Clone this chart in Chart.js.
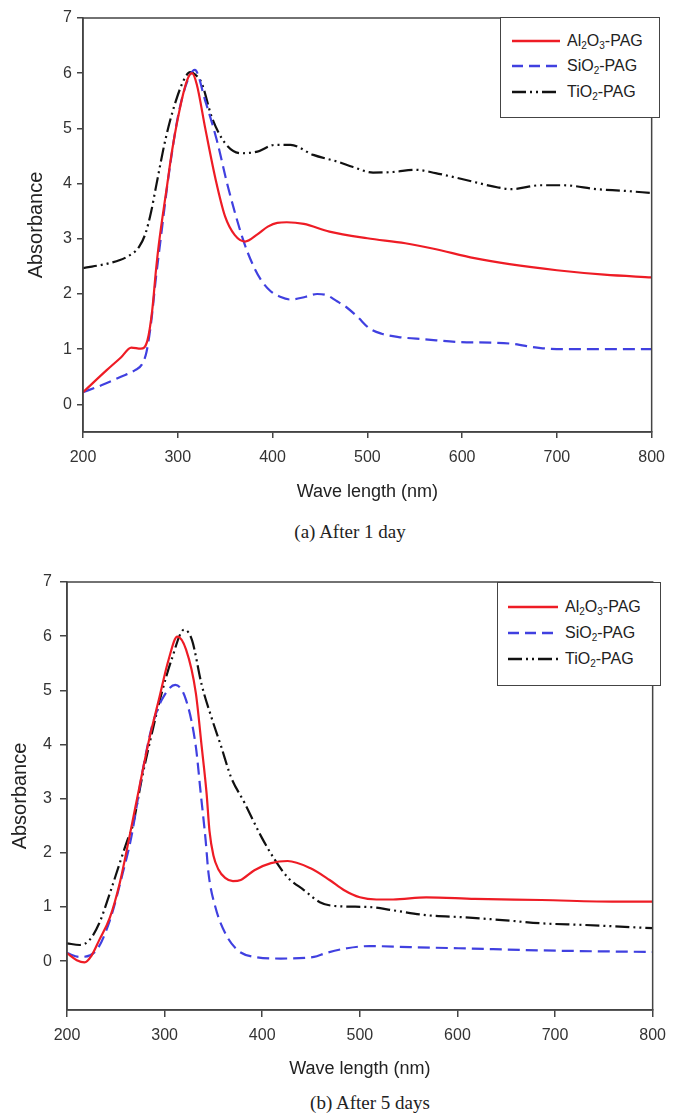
<!DOCTYPE html>
<html>
<head>
<meta charset="utf-8">
<script src="https://cdn.jsdelivr.net/npm/chart.js@4.4.1/dist/chart.umd.min.js"></script>
<style>
  html, body { margin: 0; padding: 0; background: #fff; }
  body { width: 675px; height: 1116px; position: relative; overflow: hidden; font-family: "Liberation Sans", Arial, sans-serif; }
  canvas { position: absolute; left: 0; }
  .legend { position: absolute; border: 1.5px solid #444; background: #fff; box-sizing: border-box; }
  .item { position: absolute; left: 0; height: 20px; display: flex; align-items: center; font-size: 16px; color: #222; white-space: nowrap; }
  .item svg { display: block; margin-right: 7px; }
  sub { font-size: 10px; vertical-align: -3px; line-height: 0; }
  .caption { position: absolute; font-family: "Liberation Serif", "Times New Roman", serif; font-size: 19px; color: #222; transform: translate(-50%, -50%); white-space: nowrap; }
</style>
</head>
<body>
<canvas id="c1" width="675" height="510" style="top:0px;width:675px;height:510px"></canvas>
<canvas id="c2" width="675" height="520" style="top:560px;width:675px;height:520px"></canvas>

<div class="legend" style="left:500px;top:17px;width:160px;height:101px">
  <div class="item" style="left:11px;top:13px"><svg width="48" height="4"><line x1="0" y1="2" x2="48" y2="2" stroke="#ee1c25" stroke-width="2.5"/></svg><span>Al<sub>2</sub>O<sub>3</sub>-PAG</span></div>
  <div class="item" style="left:11px;top:38px"><svg width="48" height="4"><line x1="0" y1="2" x2="48" y2="2" stroke="#4040e0" stroke-width="2.5" stroke-dasharray="11 6"/></svg><span>SiO<sub>2</sub>-PAG</span></div>
  <div class="item" style="left:11px;top:64px"><svg width="48" height="4"><line x1="0" y1="2" x2="48" y2="2" stroke="#111" stroke-width="2.5" stroke-dasharray="14 4 2 4 2 4"/></svg><span>TiO<sub>2</sub>-PAG</span></div>
</div>
<div class="legend" style="left:497px;top:582px;width:164px;height:104px">
  <div class="item" style="left:10px;top:14px"><svg width="50" height="4"><line x1="0" y1="2" x2="50" y2="2" stroke="#ee1c25" stroke-width="2.5"/></svg><span>Al<sub>2</sub>O<sub>3</sub>-PAG</span></div>
  <div class="item" style="left:10px;top:40px"><svg width="50" height="4"><line x1="0" y1="2" x2="50" y2="2" stroke="#4040e0" stroke-width="2.5" stroke-dasharray="11 6"/></svg><span>SiO<sub>2</sub>-PAG</span></div>
  <div class="item" style="left:10px;top:66px"><svg width="50" height="4"><line x1="0" y1="2" x2="50" y2="2" stroke="#111" stroke-width="2.5" stroke-dasharray="14 4 2 4 2 4"/></svg><span>TiO<sub>2</sub>-PAG</span></div>
</div>

<div class="caption" style="left:350px;top:532px">(a) After 1 day</div>
<div class="caption" style="left:370px;top:1103px">(b) After 5 days</div>

<script>
// ---------- Data ----------
const seriesNames = ["Al\u2082O\u2083-PAG", "SiO\u2082-PAG", "TiO\u2082-PAG"];
const xTicks = [200, 300, 400, 500, 600, 700, 800];
const yTicks = [0, 1, 2, 3, 4, 5, 6, 7];

// (a) After 1 day
const al1X = [200,225,240,251,261,268,273,277,280,289,294,304,310,315,320,329,340,350,360,371,384,395,405,415,433,460,500,540,570,613,650,700,750,800];
const al1Y = [0.22,0.62,0.85,1.03,1.01,1.16,1.7,2.43,2.9,4.0,4.6,5.5,5.88,6.0,5.8,5.0,4.07,3.4,3.07,2.95,3.08,3.22,3.29,3.3,3.27,3.13,3.01,2.92,2.82,2.65,2.54,2.43,2.35,2.3];
const si1X = [200,220,240,255,262,267,272,277,282,287,290,300,310,318,329,341,353,369,380,388,398,408,419,435,447,457,467,478,490,502,515,533,561,596,630,652,683,720,800];
const si1Y = [0.22,0.35,0.5,0.62,0.72,0.95,1.5,2.3,3.0,3.7,4.1,5.2,5.85,6.06,5.5,4.8,3.94,2.98,2.5,2.25,2.05,1.95,1.9,1.95,2.0,1.98,1.88,1.76,1.58,1.38,1.28,1.22,1.18,1.13,1.12,1.1,1.02,1.0,1.0];
const ti1X = [200,228,246,259,266,272,277,287,298,308,313,318,325,336,350,367,384,402,419,443,468,485,506,527,551,572,603,638,652,683,707,742,770,800];
const ti1Y = [2.47,2.56,2.67,2.85,3.1,3.5,3.94,4.8,5.5,5.93,6.02,5.98,5.83,5.2,4.73,4.55,4.58,4.7,4.7,4.52,4.4,4.3,4.2,4.21,4.25,4.19,4.07,3.93,3.9,3.97,3.97,3.9,3.87,3.83];

// (b) After 5 days
const al5X = [200,210,218,225,233,244,254,264,274,284,294,304,313,322,332,338,343,346,350,355,362,370,378,392,409,426,449,469,484,500,517,534,568,618,686,763,800];
const al5Y = [0.15,0.02,-0.02,0.1,0.39,0.81,1.44,2.3,3.2,4.08,4.82,5.56,5.99,5.75,4.95,3.96,3.1,2.4,1.95,1.7,1.54,1.48,1.5,1.68,1.81,1.85,1.72,1.5,1.31,1.18,1.14,1.14,1.18,1.15,1.13,1.1,1.1];
const si5X = [200,213,230,244,257,266,277,287,297,311,322,332,337,342,345,352,362,375,392,419,453,465,487,510,551,601,686,800];
const si5Y = [0.15,0.08,0.2,0.76,1.62,2.3,3.47,4.33,4.82,5.1,4.82,3.96,3.1,2.24,1.62,1.0,0.52,0.2,0.08,0.05,0.08,0.15,0.24,0.28,0.26,0.24,0.2,0.17];
const ti5X = [200,213,223,233,244,254,262,267,277,287,297,307,320,328,338,348,358,368,382,399,413,426,443,459,474,510,534,568,608,646,686,730,800];
const ti5Y = [0.33,0.3,0.39,0.7,1.26,1.81,2.24,2.48,3.4,4.21,4.95,5.56,6.12,5.93,5.1,4.5,3.96,3.4,2.92,2.3,1.87,1.55,1.31,1.09,1.02,1.0,0.94,0.85,0.81,0.76,0.7,0.67,0.61];

// ---------- Styles ----------
const lineColors = ["#ee1c25", "#4040e0", "#111111"];
const lineDashes = [[], [12, 6], [14, 4, 2, 4, 2, 4]];
const axisColor = "#444";
const fontFam = "'Liberation Sans', Arial, sans-serif";

function pts(xs, ys) { return xs.map((x, i) => ({ x: x, y: ys[i] })); }

const boxPlugin = {
  id: 'box',
  afterDatasetsDraw(chart) {
    const a = chart.chartArea, ctx = chart.ctx;
    ctx.save();
    ctx.strokeStyle = axisColor;
    ctx.lineWidth = 1.5;
    ctx.strokeRect(a.left, a.top, a.right - a.left, a.bottom - a.top);
    ctx.restore();
  }
};

function makeChart(id, series, L) {
  const datasets = series.map((s, i) => ({
    label: seriesNames[i],
    data: pts(s[0], s[1]),
    borderColor: lineColors[i],
    borderDash: lineDashes[i],
    borderWidth: 2.2,
    pointRadius: 0,
    fill: false,
    cubicInterpolationMode: 'monotone',
    tension: 0.4
  }));
  return new Chart(document.getElementById(id), {
    type: 'line',
    data: { datasets: datasets },
    plugins: [boxPlugin],
    options: {
      responsive: false,
      animation: false,
      devicePixelRatio: 1,
      layout: { padding: { top: L.top, right: L.right, left: 0, bottom: 0 } },
      plugins: { legend: { display: false }, tooltip: { enabled: false } },
      scales: {
        x: {
          type: 'linear',
          min: xTicks[0], max: xTicks[xTicks.length - 1],
          afterBuildTicks: (sc) => { sc.ticks = xTicks.map(v => ({ value: v })); },
          afterFit: (sc) => { sc.height = L.xH; },
          grid: { display: true, drawOnChartArea: false, drawTicks: true, tickLength: L.xTick, color: axisColor, lineWidth: 1.5 },
          border: { display: true, color: axisColor, width: 1.5 },
          ticks: { color: '#333', font: { family: fontFam, size: 16 }, padding: L.xPad, maxRotation: 0 },
          title: { display: true, text: 'Wave length (nm)', color: '#222', font: { family: fontFam, size: 18, lineHeight: 1.2 }, padding: { top: 0, bottom: L.xTitlePad } }
        },
        y: {
          type: 'linear',
          min: L.ymin, max: 7,
          afterBuildTicks: (sc) => { sc.ticks = yTicks.map(v => ({ value: v })); },
          afterFit: (sc) => { sc.width = L.yW; },
          grid: { display: true, drawOnChartArea: false, drawTicks: true, tickLength: L.yTick, color: axisColor, lineWidth: 1.5 },
          border: { display: true, color: axisColor, width: 1.5 },
          ticks: { color: '#333', font: { family: fontFam, size: 16 }, padding: L.yPad },
          title: { display: true, text: 'Absorbance', color: '#222', font: { family: fontFam, size: 20, lineHeight: 1.2 }, padding: { top: L.yTitlePad, bottom: 0 } }
        }
      }
    }
  });
}

makeChart('c1', [[al1X, al1Y], [si1X, si1Y], [ti1X, ti1Y]],
  { top: 18, right: 16, xH: 78, yW: 83, ymin: -0.5, xTick: 6, xPad: 10, xTitlePad: 7, yTick: 6, yPad: 5, yTitlePad: 24 });
makeChart('c2', [[al5X, al5Y], [si5X, si5Y], [ti5X, ti5Y]],
  { top: 22, right: 16, xH: 70, yW: 67, ymin: -0.9, xTick: 7, xPad: 9, xTitlePad: 0, yTick: 7, yPad: 8, yTitlePad: 8 });
</script>
</body>
</html>
